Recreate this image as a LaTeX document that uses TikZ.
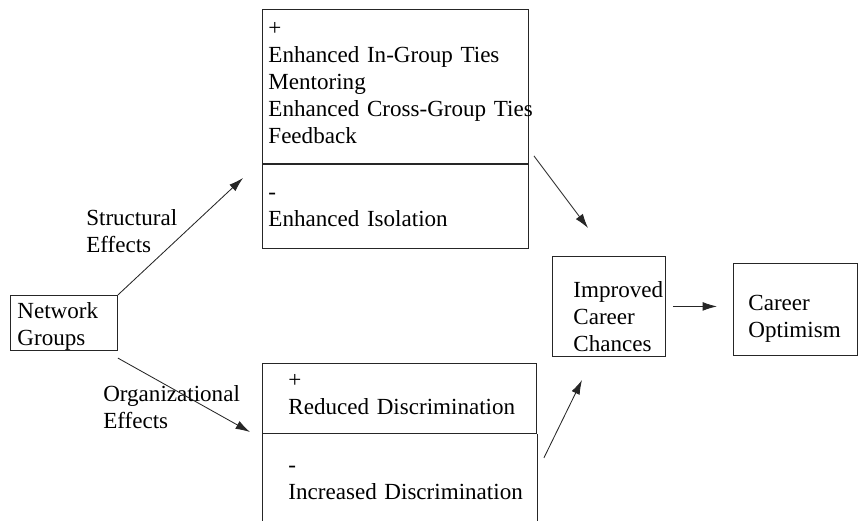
\documentclass[tikz,border=0pt]{standalone}
\usepackage{fontspec}
\setmainfont{Liberation Serif}
\usetikzlibrary{arrows.meta,positioning}

\begin{document}
\begin{tikzpicture}[
  x=0.025cm,y=-0.025cm,
  font=\fontsize{16.4}{19.2}\selectfont,
  box/.style={draw=black!85,line width=0.6pt,anchor=north west,align=left,inner xsep=0.05cm,inner ysep=0pt},
  txtin/.style={execute at begin node={\leftskip=#1\relax}},
  lbl/.style={anchor=west,align=left,inner sep=0pt},
  arr/.style={draw=black!85,line width=0.6pt,-{Latex[length=0.36cm,width=0.22cm]}}
]
\useasboundingbox (0,0) rectangle (859,520);
\node[box,txtin=0.1cm,text width=6.55cm,text height=0.65cm,text depth=3.2cm] (posa) at (262,9)
  {+\\Enhanced In-Group Ties\\Mentoring\\\mbox{Enhanced Cross-Group Ties}\\Feedback};
\node[box,txtin=0.1cm,text width=6.55cm,text height=0.875cm,text depth=1.225cm] (nega) at (posa.south west) {-\\Enhanced Isolation};
\node[box,txtin=0.6cm,text width=6.75cm,text height=0.6cm,text depth=1.15cm] (posb) at (262,363) {+\\Reduced Discrimination};
\node[box,draw=none,txtin=0.6cm,text width=6.75cm,text height=0.95cm,text depth=1.25cm] (negb) at (posb.south west) {-\\Increased Discrimination};
\draw[line width=0.6pt,draw=black!85] (negb.south west) -- (negb.north west) (negb.north east) -- (negb.south east);

\node[box,txtin=0.125cm,text width=2.575cm,text height=0.575cm,text depth=0.8cm] (ng) at (10,295) {Network\\Groups};
\node[box,txtin=0.475cm,text width=2.725cm,text height=1.025cm,text depth=1.475cm] (imp) at (552,256) {Improved\\Career\\Chances};
\node[box,txtin=0.325cm,text width=3cm,text height=1.175cm,text depth=1.125cm] (car) at (733,263) {Career\\Optimism};

\node[lbl] (se) at (86,231) {Structural\\Effects};
\node[lbl] (oe) at (103,407) {Organizational\\Effects};

\coordinate (sa) at (243,178);
\coordinate (sb) at (250,432);
\coordinate (ia) at (588,228);
\coordinate (ib) at (582,380);
\draw[arr] (ng.north east) -- (sa);
\draw[arr] ([yshift=-0.18cm]ng.south east) -- (sb);
\draw[arr] ([shift={(5,-8)}]nega.north east) -- (ia);
\draw[arr] ([shift={(7,24)}]negb.north east) -- (ib);
\draw[arr] ([xshift=0.175cm]imp.east) -- ([xshift=-0.4cm]imp.east -| car.west);
\end{tikzpicture}
\end{document}
